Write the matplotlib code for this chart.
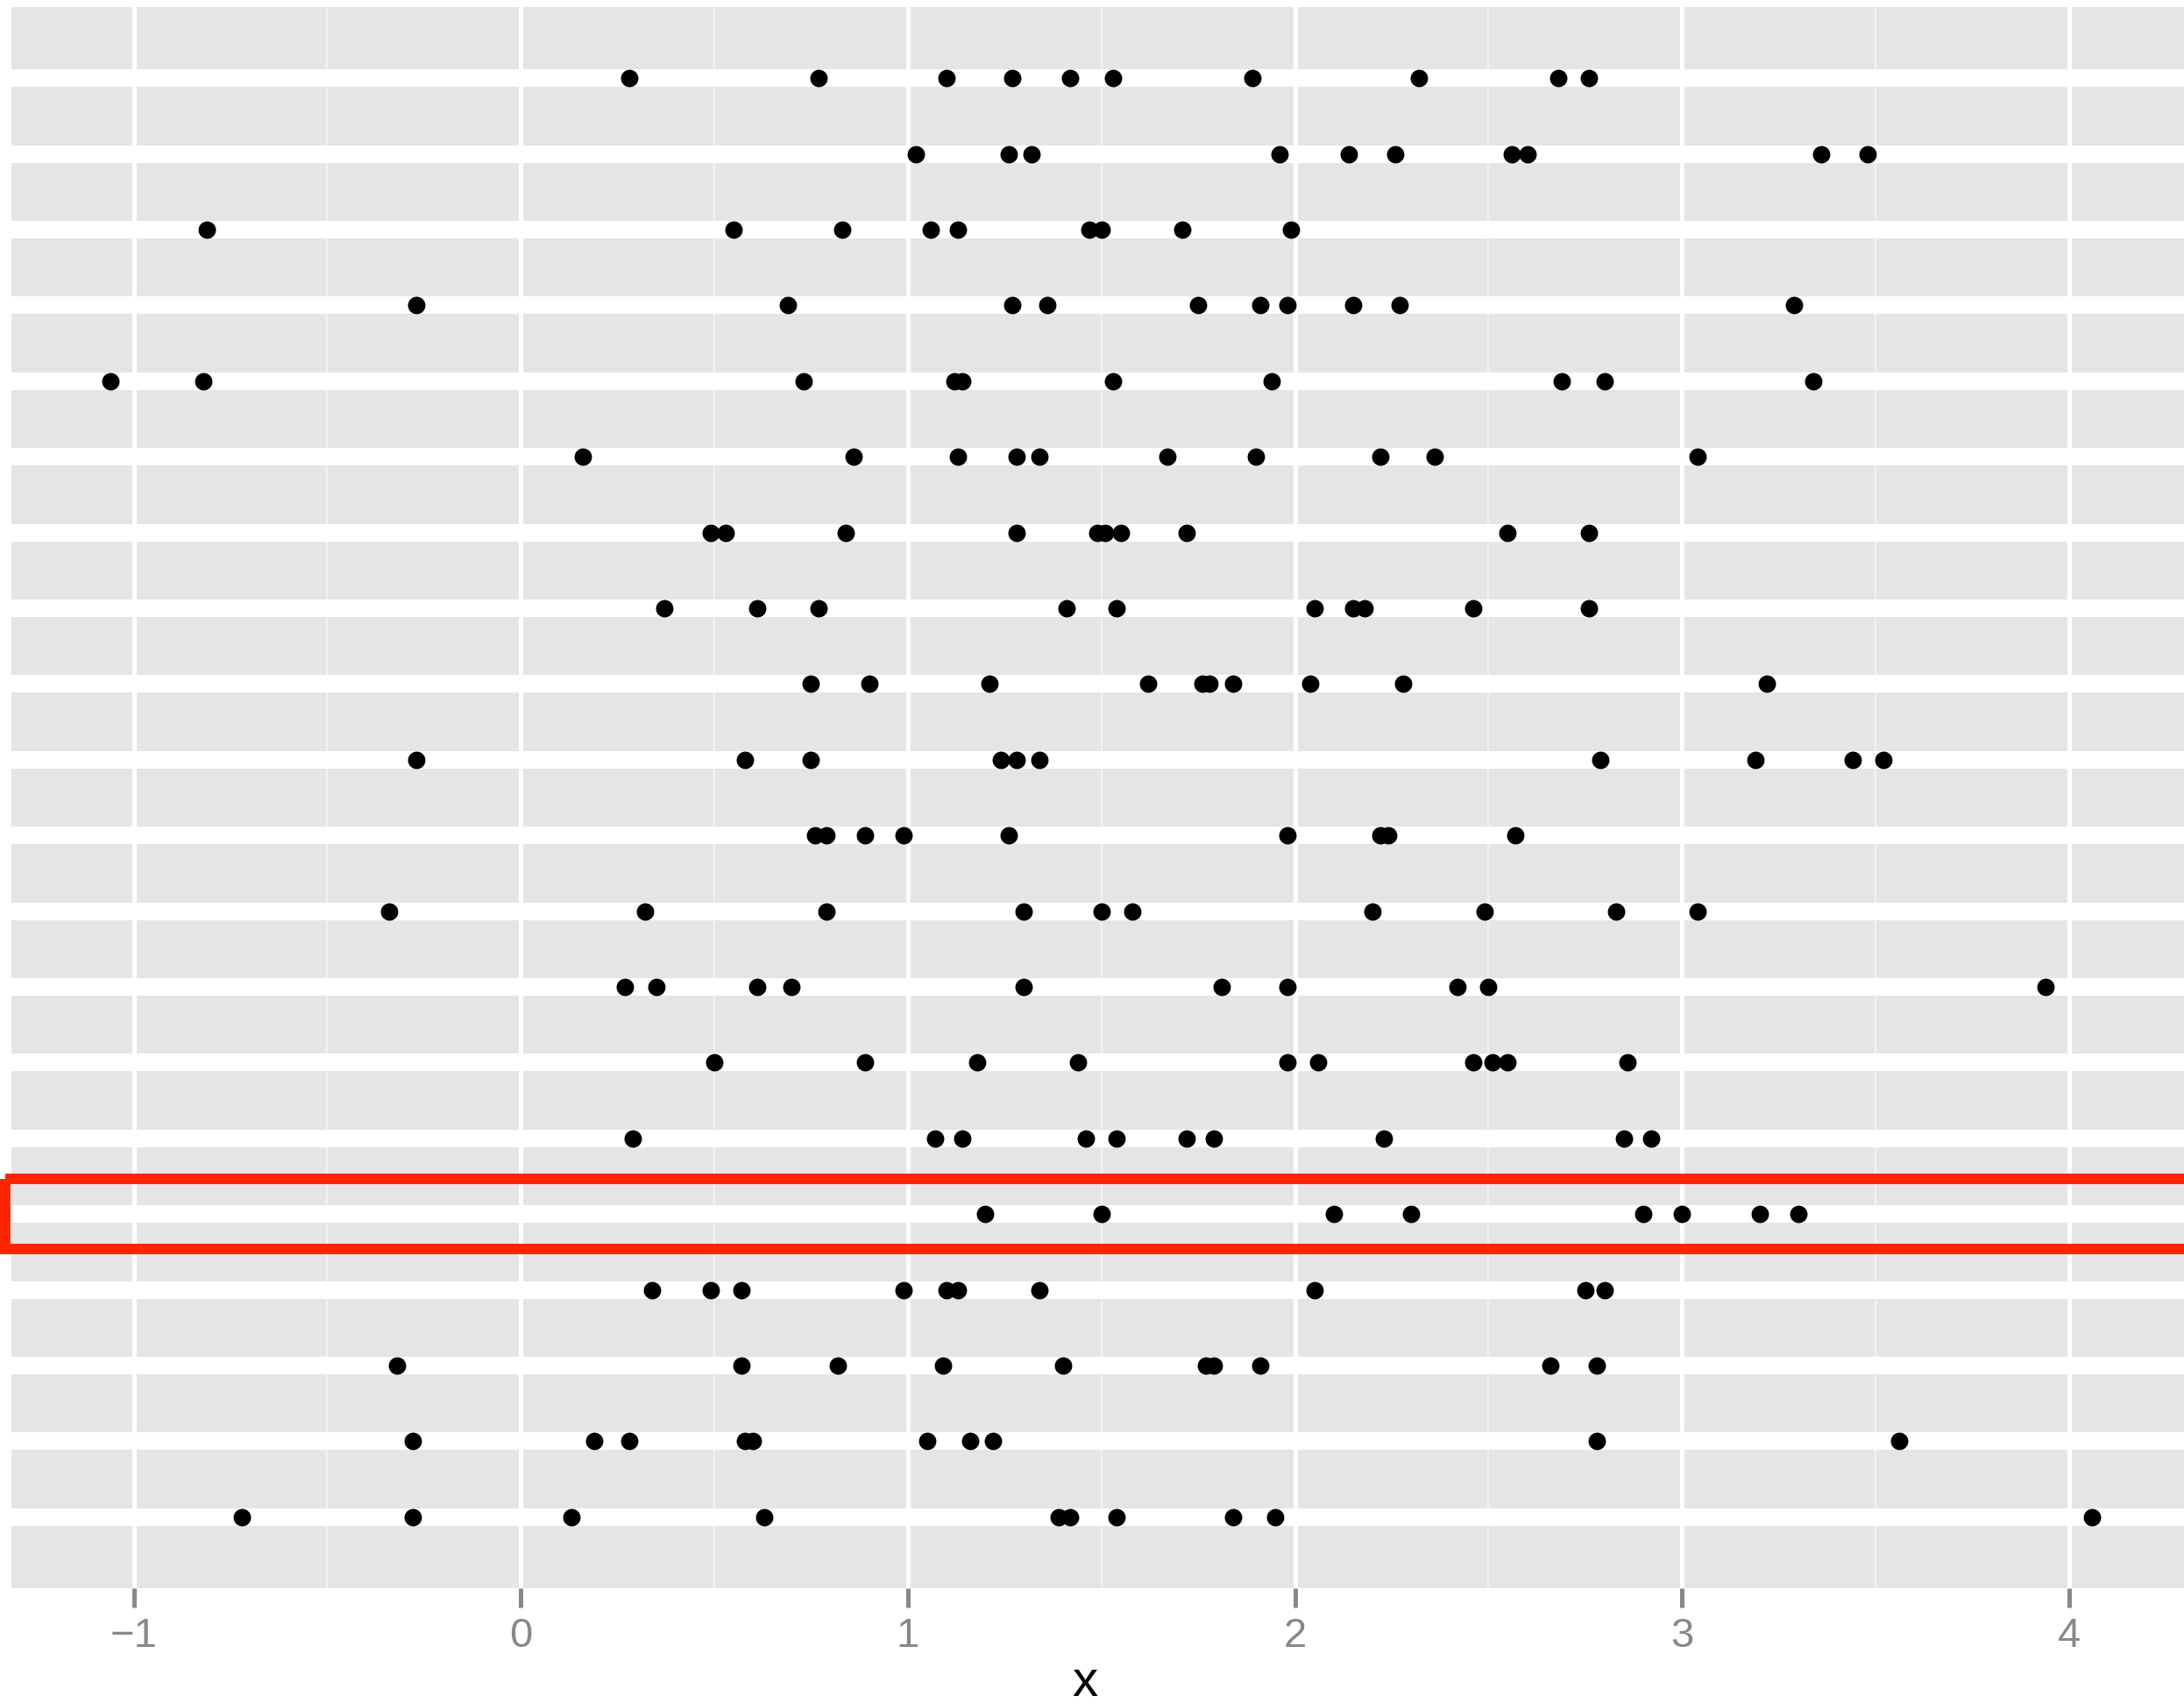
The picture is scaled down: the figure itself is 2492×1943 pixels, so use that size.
import matplotlib
matplotlib.use("Agg")
import matplotlib.pyplot as plt
from matplotlib.patches import Rectangle
from matplotlib.ticker import MultipleLocator

# x values of the points, one list per row (top row first)
row01 = [0.28, 0.77, 1.10, 1.27, 1.42, 1.53, 1.89, 2.32, 2.68, 2.76]
row02 = [1.02, 1.26, 1.32, 1.96, 2.14, 2.26, 2.56, 2.60, 3.36, 3.48]
row03 = [-0.81, 0.55, 0.83, 1.06, 1.13, 1.47, 1.50, 1.71, 1.99]
row04 = [-0.27, 0.69, 1.27, 1.36, 1.75, 1.91, 1.98, 2.15, 2.27, 3.29]
row05 = [-1.06, -0.82, 0.73, 1.12, 1.14, 1.53, 1.94, 2.69, 2.80, 3.34]
row06 = [0.16, 0.86, 1.13, 1.28, 1.34, 1.67, 1.90, 2.22, 2.36, 3.04]
row07 = [0.49, 0.53, 0.84, 1.28, 1.49, 1.51, 1.55, 1.72, 2.55, 2.76]
row08 = [0.37, 0.61, 0.77, 1.41, 1.54, 2.05, 2.15, 2.18, 2.46, 2.76]
row09 = [0.75, 0.90, 1.21, 1.62, 1.76, 1.78, 1.84, 2.04, 2.28, 3.22]
row10 = [-0.27, 0.58, 0.75, 1.24, 1.28, 1.34, 2.79, 3.19, 3.44, 3.52]
row11 = [0.76, 0.79, 0.89, 0.99, 1.26, 1.98, 2.22, 2.24, 2.57]
row12 = [-0.34, 0.32, 0.79, 1.30, 1.50, 1.58, 2.20, 2.49, 2.83, 3.04]
row13 = [0.27, 0.35, 0.61, 0.70, 1.30, 1.81, 1.98, 2.42, 2.50, 3.94]
row14 = [0.50, 0.89, 1.18, 1.44, 1.98, 2.06, 2.46, 2.51, 2.55, 2.86]
row15 = [0.29, 1.07, 1.14, 1.46, 1.54, 1.72, 1.79, 2.23, 2.85, 2.92]
row16 = [1.20, 1.50, 2.10, 2.30, 2.90, 3.00, 3.20, 3.30]
row17 = [0.34, 0.49, 0.57, 0.99, 1.10, 1.13, 1.34, 2.05, 2.75, 2.80]
row18 = [-0.32, 0.57, 0.82, 1.09, 1.40, 1.77, 1.79, 1.91, 2.66, 2.78]
row19 = [-0.28, 0.19, 0.28, 0.58, 0.60, 1.05, 1.16, 1.22, 2.78, 3.56]
row20 = [-0.72, -0.28, 0.13, 0.63, 1.39, 1.42, 1.54, 1.84, 1.95, 4.06]

rows = [row01, row02, row03, row04, row05, row06, row07, row08, row09, row10,
        row11, row12, row13, row14, row15, row16, row17, row18, row19, row20]
highlight_row = 16
x_ticks = [-1, 0, 1, 2, 3, 4]
x_title = "x"

plt.rcParams["font.family"] = ["Liberation Sans", "DejaVu Sans"]

W, H = 2492, 1943
fig = plt.figure(figsize=(W / 100, H / 100), dpi=100)
ax = fig.add_axes([13 / W, 131 / H, 1 - 13 / W, 1804 / H])
ax.set_facecolor("#e5e5e5")
for s in ax.spines.values():
    s.set_visible(False)

for i, xs in enumerate(rows, 1):
    ax.scatter(xs, [i] * len(xs), s=205, color="black", linewidths=0, zorder=3)

ax.set_xlim(-1.316, 4.297)
ax.set_ylim(20.94, 0.06)

ax.set_xticks(x_ticks)
ax.xaxis.set_minor_locator(MultipleLocator(0.5))
ax.set_yticks(range(1, len(rows) + 1))
ax.tick_params(axis="y", which="both", length=0, labelleft=False)
ax.tick_params(axis="x", which="major", length=16, width=3.6, color="#888888",
               labelsize=34, labelcolor="#888888", pad=8)
ax.tick_params(axis="x", which="minor", length=0)

ax.grid(axis="x", which="major", color="white", lw=3.6)
ax.grid(axis="x", which="minor", color="#f2f2f2", lw=1.6)
ax.grid(axis="y", which="major", color="white", lw=14.4)
ax.set_axisbelow(True)

ax.set_xlabel(x_title, fontsize=42, color="black", va="center")
ax.xaxis.set_label_coords((1238 - 13) / (W - 13), -(1920 - 1812) / 1804)

# red box round the highlighted row
ax.add_patch(Rectangle((-1.331, highlight_row - 0.465), 6.0, 0.93, fill=False,
                       edgecolor="#ff2400", lw=8.6, clip_on=False, zorder=5))

fig.savefig("out.png", dpi=100)
